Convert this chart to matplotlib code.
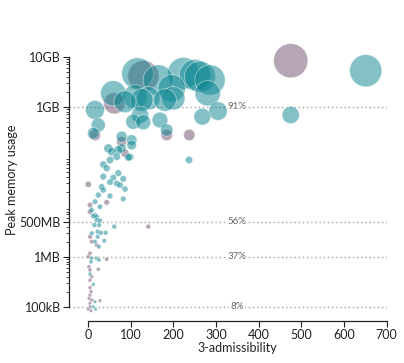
import numpy as np
import matplotlib
matplotlib.use("Agg")
import matplotlib.pyplot as plt
from matplotlib.ticker import FixedLocator, NullFormatter

plt.rcParams['font.family'] = ['Lato', 'DejaVu Sans']

# ---- data: x = 3-admissibility, mem = peak memory (MB), grp = 0 teal / 1 purple
adm = [116.0, 130.0, 164.8, 59.3, 61.6, 16.4, 24.1, 12.4, 16.4, 223.4,
       250.8, 262.5, 286.0, 280.6, 196.2, 180.5, 199.9, 110.2, 141.3, 125.9,
       86.7, 121.9, 106.2, 129.6, 168.7, 184.5, 184.5, 237.4, 267.9, 304.7,
       475.1, 650.9, 475.1, 236.7, 79.0, 102.4, 98.4,
       79.0, 102.4, 47.6, 55.5, 79.0, 71.0, 86.7, 67.3, 94.5, 51.6,
       35.9, 43.8, 71.0, 35.9, 59.3, 82.7, 51.6, 67.3, 75.0, 32.1,
       86.7, 0.7, 35.9, 24.1, 51.6, 82.7, 16.4, 43.8, 4.7, 28.1,
       8.7, 16.4, 20.4,
       4.7, 12.4, 20.4, 28.1, 14.8, 25.8, 61.6, 141.3, 8.7, 22.7,
       30.5, 41.5, 4.7, 22.7, 8.7, 16.4, 38.2, 20.4, 25.8, 4.7,
       0.7, 8.7, 20.4, 25.8, 43.8, 7.0, 2.3, 4.7, 24.1, 4.7,
       8.7, 4.7, 12.4, 4.7, 7.0, 4.7, 2.3, 8.7, 4.7, 16.4,
       28.1, 4.7, 12.4, 0.7, 18.0, 7.0]
mem_mb = [4600, 4100, 3420, 1854, 1170, 859, 430, 294, 272, 4656,
          4305, 3981, 3420, 1854, 2333, 1361, 1472, 1585, 1472, 1361,
          1259, 682, 501, 488, 542, 342, 272, 272, 631, 820,
          8318, 5248, 682, 86, 251, 216, 99,
          200, 171, 147, 126, 147, 136, 117, 100, 97, 86,
          70, 59, 47, 40, 38, 36, 31, 29, 27, 25,
          22.6, 28, 21.6, 17.1, 16.4, 14.3, 12.6, 12.2, 10.8, 10,
          8.6, 6.8, 5.4,
          7.9, 6.5, 6.3, 5.25, 4.3, 4.3, 4.0, 4.0, 2.94, 3.16,
          3.0, 3.0, 2.5, 2.5, 2.0, 2.0, 2.09, 1.71, 1.58, 1.17,
          1.0, 0.93, 0.93, 0.86, 0.89, 0.79, 0.63, 0.54, 0.56, 0.45,
          0.40, 0.34, 0.28, 0.24, 0.20, 0.17, 0.147, 0.136, 0.117, 0.126,
          0.132, 0.10, 0.10, 0.089, 0.089, 0.083]
grp = [0, 1, 0, 0, 1, 0, 0, 0, 1, 0,
       0, 0, 0, 0, 0, 0, 0, 0, 0, 0,
       0, 0, 0, 0, 0, 0, 1, 1, 0, 0,
       1, 0, 0, 0, 0, 0, 0,
       1, 0, 0, 0, 0, 0, 1, 0, 0, 0,
       0, 0, 0, 0, 0, 0, 0, 0, 0, 0,
       0, 1, 0, 0, 0, 0, 0, 1, 1, 0,
       0, 0, 0,
       1, 0, 0, 0, 0, 0, 0, 1, 0, 0,
       0, 0, 1, 0, 1, 0, 0, 1, 0, 1,
       1, 0, 0, 0, 1, 0, 1, 1, 1, 0,
       1, 1, 0, 1, 1, 1, 1, 1, 1, 0,
       1, 1, 0, 1, 0, 1]

ytick_vals = [1e5, 1e6, 5e6, 1e9, 1e10]
ytick_labels = ["100kB", "1MB", "500MB", "1GB", "10GB"]
xtick_vals = [0, 100, 200, 300, 400, 500, 600, 700]
pct_labels = ["8%", "37%", "56%", "91%"]
pct_levels = [1e5, 1e6, 5e6, 1e9]

colors = {0: "#0a8590", 1: "#6e4d6a"}

W, H = 404, 363
fig = plt.figure(figsize=(W / 100, H / 100), dpi=100)
L, R, B, T = 69, 386.7, 321, 30
ax = fig.add_axes([L / W, 1 - B / H, (R - L) / W, (B - T) / H])

x = np.array(adm)
y = np.array(mem_mb) * 1e6
g = np.array(grp)
r_px = np.interp(np.log10(y), [5, 6, 7, 8, 8.5, 9, 9.5, 10],
                 [1.8, 2.1, 2.7, 3.8, 6.0, 10.0, 15.0, 17.5])
s = (2 * r_px * 0.72) ** 2
for grp_id in [1, 0]:
    m = g == grp_id
    o = np.argsort(-s[m])
    ax.scatter(x[m][o], y[m][o], s=s[m][o], color=colors[grp_id], alpha=0.5,
               edgecolors="white", linewidths=0.6, zorder=3, clip_on=False)

ax.set_yscale("log")
ax.set_xlim(-44.5, 700)
ax.set_ylim(10 ** 4.714, 10 ** 10.534)

for lvl, lab in zip(pct_levels, pct_labels):
    ax.plot([-44.5, 700], [lvl, lvl], color="#a0a0a0", lw=1.0,
            linestyle=(0, (1, 2)), zorder=1)
    ax.text(350, lvl, lab, ha="center", va="center", fontsize=7,
            color="#666666", zorder=2,
            bbox=dict(boxstyle="square,pad=0.12", fc="white", ec="none"))

ax.yaxis.set_major_locator(FixedLocator(ytick_vals))
ax.set_yticklabels(ytick_labels)
ax.yaxis.set_minor_locator(FixedLocator(
    [m * 10 ** e for e in range(5, 10) for m in range(2, 10)]))
ax.yaxis.set_minor_formatter(NullFormatter())
ax.set_xticks(xtick_vals)
ax.set_xticklabels([str(v) for v in xtick_vals])

for sp in ["top", "right"]:
    ax.spines[sp].set_visible(False)
ax.spines["left"].set_bounds(1e5, 1e10)
ax.spines["bottom"].set_bounds(0, 700)
for sp in ["left", "bottom"]:
    ax.spines[sp].set_linewidth(0.9)
    ax.spines[sp].set_color("#222222")

ax.tick_params(axis="both", which="major", length=4, width=0.8,
               labelsize=9, colors="#222222", pad=2)
ax.tick_params(axis="y", which="minor", length=2, width=0.6, colors="#222222")

fig.text(237 / W, 1 - 348 / H, "3-admissibility", ha="center", va="center",
         fontsize=9, color="#222222")
fig.text(12 / W, 1 - 180 / H, "Peak memory usage", ha="center", va="center",
         rotation=90, fontsize=9, color="#222222")

fig.savefig("out.png", dpi=100)
